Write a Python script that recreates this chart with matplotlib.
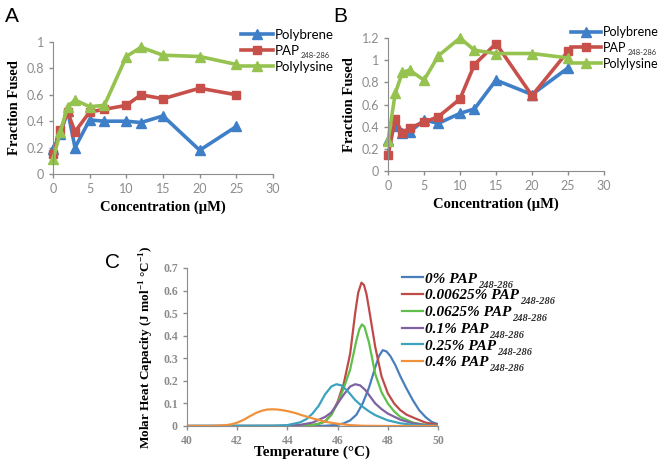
import matplotlib
matplotlib.use("Agg")
import matplotlib.pyplot as plt

plt.rcParams['mathtext.fontset'] = 'custom'
plt.rcParams['mathtext.rm'] = 'Liberation Serif:bold'
plt.rcParams['mathtext.bf'] = 'Liberation Serif:bold'

# panel A / B data
conc = [0, 1, 2, 3, 5, 7, 10, 12, 15, 20, 25]
a_polybrene = [0.19, 0.30, 0.48, 0.20, 0.41, 0.40, 0.40, 0.39, 0.44, 0.18, 0.36]
a_pap = [0.15, 0.33, 0.47, 0.32, 0.47, 0.49, 0.52, 0.60, 0.57, 0.65, 0.60]
a_polylysine = [0.11, 0.32, 0.51, 0.56, 0.51, 0.52, 0.89, 0.96, 0.90, 0.89, 0.83]
b_polybrene = [0.28, 0.41, 0.34, 0.35, 0.46, 0.43, 0.52, 0.56, 0.82, 0.69, 0.93]
b_pap = [0.14, 0.47, 0.34, 0.39, 0.44, 0.49, 0.65, 0.96, 1.15, 0.68, 1.08]
b_polylysine = [0.27, 0.70, 0.89, 0.91, 0.82, 1.04, 1.20, 1.09, 1.06, 1.06, 1.02]

# panel C data
t_0 = [40, 45.5, 46, 46.25, 46.5, 46.75, 47, 47.25, 47.5, 47.65, 47.8, 47.95, 48.1, 48.3, 48.5,
       48.75, 49, 49.25, 49.5, 49.75, 50]
c_0 = [0, 0.001, 0.005, 0.012, 0.025, 0.05, 0.1, 0.17, 0.26, 0.31, 0.336, 0.33, 0.31, 0.27, 0.22,
       0.165, 0.114, 0.07, 0.04, 0.018, 0.008]
t_1 = [40, 44.5, 45, 45.25, 45.5, 45.75, 46, 46.25, 46.5, 46.7, 46.82, 46.95, 47.05, 47.15, 47.25, 47.5,
       47.75, 48, 48.25, 48.5, 48.75, 49, 49.5, 50]
c_1 = [0, 0.0, 0.004, 0.01, 0.02, 0.05, 0.107, 0.19, 0.32, 0.5, 0.59, 0.635, 0.625, 0.585, 0.52, 0.35,
       0.22, 0.145, 0.1, 0.07, 0.05, 0.038, 0.015, 0.005]
t_2 = [40, 44.5, 45, 45.25, 45.5, 45.75, 46, 46.25, 46.5, 46.75, 46.87, 46.97, 47.07, 47.25, 47.5,
       47.75, 48, 48.25, 48.5, 49, 49.5, 50]
c_2 = [0, 0.0, 0.004, 0.01, 0.02, 0.05, 0.1, 0.17, 0.25, 0.38, 0.43, 0.45, 0.44, 0.37, 0.23,
       0.15, 0.1, 0.065, 0.04, 0.015, 0.005, 0]
t_3 = [40, 44, 44.5, 45, 45.5, 45.75, 46, 46.25, 46.5, 46.7, 46.9, 47.1, 47.3, 47.5, 47.75,
       48, 48.5, 49, 49.5, 50]
c_3 = [0, 0.0, 0.005, 0.015, 0.04, 0.06, 0.1, 0.14, 0.175, 0.185, 0.18, 0.16, 0.13, 0.1, 0.075,
       0.055, 0.028, 0.012, 0.004, 0]
t_4 = [40, 43.5, 44, 44.5, 44.75, 45, 45.25, 45.5, 45.75, 45.95, 46.15, 46.4, 46.7, 47, 47.25,
       47.5, 48, 48.5, 49, 49.5, 50]
c_4 = [0, 0.001, 0.004, 0.016, 0.03, 0.055, 0.09, 0.14, 0.175, 0.185, 0.18, 0.155, 0.115, 0.085, 0.065,
       0.048, 0.025, 0.012, 0.005, 0.002, 0]
t_5 = [40, 41, 41.5, 41.75, 42, 42.25, 42.5, 42.75, 43, 43.2, 43.4, 43.6, 43.8, 44, 44.3, 44.6,
       45, 45.3, 45.6, 46, 46.5, 47, 48, 50]
c_5 = [0, 0, 0.003, 0.007, 0.015, 0.027, 0.043, 0.058, 0.068, 0.073, 0.074, 0.073, 0.07, 0.066, 0.058, 0.047,
       0.034, 0.025, 0.017, 0.01, 0.004, 0.001, 0, 0]

c_labels = ["0% PAP", "0.00625% PAP", "0.0625% PAP", "0.1% PAP", "0.25% PAP", "0.4% PAP"]
c_colors = ["#4A7EBB", "#BE4B48", "#5EC04A", "#7E62A1", "#3BA3BE", "#F0913C"]
sub = "248-286"

blue, red, green = "#3F7FC8", "#C8504A", "#96C34F"
grey = "#8C8C8C"
tickc = "#555555"
W, H = 660, 466

fig = plt.figure(figsize=(6.6, 4.66), dpi=100)


def box(l, t, r, b):
    return [l / W, 1 - b / H, (r - l) / W, (b - t) / H]


def style(ax):
    for s in ["top", "right"]:
        ax.spines[s].set_visible(False)
    for s in ["left", "bottom"]:
        ax.spines[s].set_color(grey)
    ax.tick_params(colors=grey, length=3, width=1)


sans_tick = {"family": "Lato", "size": 9, "color": tickc}
serif_tick = {"family": "Liberation Serif", "weight": "bold", "size": 8.5, "color": "#333333"}
legends = []


def fusion(ax, y1, y2, y3, ymax, yticks, ticklabels, leg_xy, legsize):
    l1, = ax.plot(conc, y1, color=blue, lw=2.6, marker="^", ms=7, clip_on=False)
    l2, = ax.plot(conc, y2, color=red, lw=2.6, marker="s", ms=6, clip_on=False)
    l3, = ax.plot(conc, y3, color=green, lw=2.6, marker="^", ms=7, clip_on=False)
    ax.set_xlim(0, 30)
    ax.set_ylim(0, ymax)
    ax.set_xticks(range(0, 31, 5), [str(v) for v in range(0, 31, 5)], **sans_tick)
    ax.set_yticks(yticks, ticklabels, **sans_tick)
    ax.set_xlabel("Concentration (µM)", family="Liberation Serif", weight="bold", fontsize=10.5, labelpad=4)
    ax.set_ylabel("Fraction Fused", family="Liberation Serif", weight="bold", fontsize=10.5, labelpad=4)
    style(ax)
    leg = fig.legend([l1, l2, l3], ["Polybrene", "PAP", "Polylysine"],
                     loc="upper left", bbox_to_anchor=leg_xy, frameon=False, borderpad=0,
                     borderaxespad=0, handlelength=2.4, handletextpad=0.15, labelspacing=0.3,
                     prop={"family": "Lato", "size": legsize})
    legends.append((leg, {"family": "Lato", "size": 5.5, "color": "#333333"}, 1, 2))


axA = fig.add_axes(box(53, 42, 273, 174))
fusion(axA, a_polybrene, a_pap, a_polylysine, 1.0,
       [0, 0.2, 0.4, 0.6, 0.8, 1.0], ["0", "0.2", "0.4", "0.6", "0.8", "1"], (241 / W, 1 - 29 / H), 9.5)

axB = fig.add_axes(box(388, 38, 604, 171))
fusion(axB, b_polybrene, b_pap, b_polylysine, 1.2,
       [0, 0.2, 0.4, 0.6, 0.8, 1.0, 1.2], ["0", "0.2", "0.4", "0.6", "0.8", "1", "1.2"], (571 / W, 1 - 26 / H), 9)

axC = fig.add_axes(box(187, 268, 438, 426))
lines = []
for t, c, col in zip([t_0, t_1, t_2, t_3, t_4, t_5], [c_0, c_1, c_2, c_3, c_4, c_5], c_colors):
    ln, = axC.plot(t, c, color=col, lw=1.6, solid_joinstyle="round")
    lines.append(ln)
axC.set_xlim(40, 50)
axC.set_ylim(0, 0.7)
axC.set_xticks([40, 42, 44, 46, 48, 50], ["40", "42", "44", "46", "48", "50"], **serif_tick)
axC.set_yticks([0, 0.1, 0.2, 0.3, 0.4, 0.5, 0.6, 0.7],
               ["0", "0.1", "0.2", "0.3", "0.4", "0.5", "0.6", "0.7"], **serif_tick)
style(axC)
axC.set_xlabel("Temperature (°C)", family="Liberation Serif", weight="bold", fontsize=11, labelpad=-1)
axC.set_ylabel(r"Molar Heat Capacity (J mol$^{\mathbf{-1}}$ °C$^{\mathbf{-1}}$)",
               family="Liberation Serif", weight="bold", fontsize=9.5, labelpad=5)
legC = fig.legend(lines, c_labels,
                  loc="upper left", bbox_to_anchor=(402 / W, 1 - 272 / H), frameon=False,
                  borderpad=0, borderaxespad=0, handlelength=1.4, handletextpad=0.1, labelspacing=0.2,
                  prop={"family": "Liberation Serif", "weight": "bold", "style": "italic", "size": 11})
legends.append((legC, {"family": "Liberation Serif", "weight": "bold", "style": "italic",
                       "size": 7.5, "color": "#333333"}, 1, 4))

# subscripts after "PAP" in the legends
fig.canvas.draw()
rend = fig.canvas.get_renderer()
for leg, props, gap, drop in legends:
    for txt in leg.get_texts():
        if txt.get_text().endswith("PAP"):
            bb = txt.get_window_extent(rend)
            fig.text((bb.x1 + gap) / W, (bb.y0 - drop) / H, sub, va="bottom", ha="left", **props)

for lab, x, y in [("A", 12, 16), ("B", 340, 16), ("C", 112, 262)]:
    fig.text(x / W, 1 - y / H, lab, fontsize=15, family="Liberation Sans", ha="center", va="center")

fig.savefig("out.png", dpi=100)
